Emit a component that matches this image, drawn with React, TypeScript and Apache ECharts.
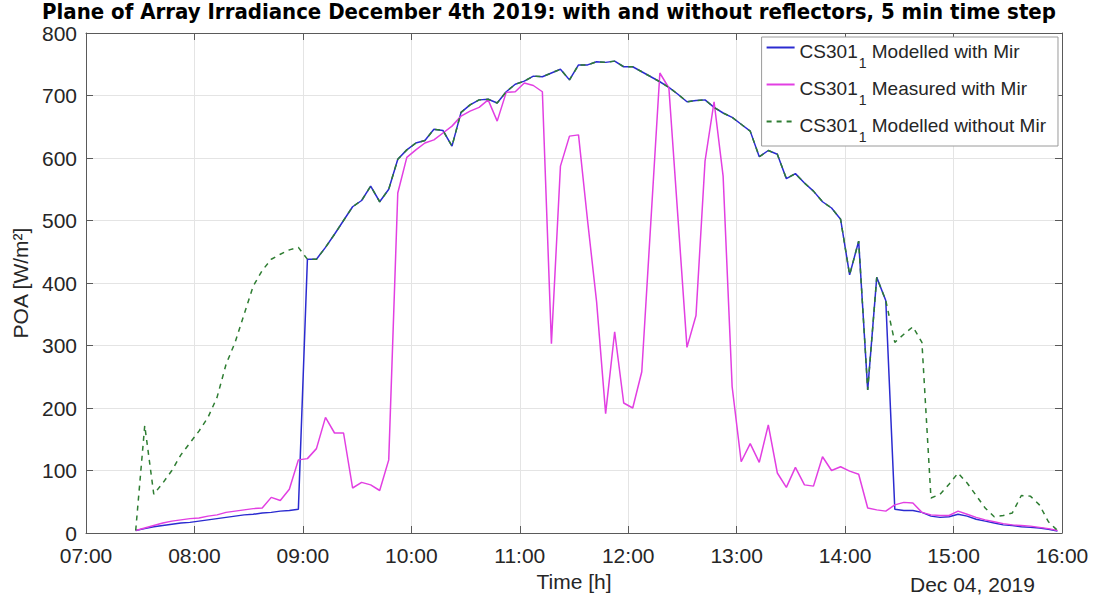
import React, { useEffect, useRef } from "react";
import * as echarts from "echarts";

// Time grid: first sample at 07:27:30, every 5 minutes (values in minutes since midnight)
const START_MIN = 7 * 60 + 27.5;
const STEP_MIN = 5;

const X_MIN = 420; // 07:00
const X_MAX = 960; // 16:00
const Y_MAX = 800;

const SERIES_NAMES = ["Modelled with Mir", "Measured with Mir", "Modelled without Mir"];

const modelledWithMir = [
  4, 7, 10, 12, 14, 16, 17, 19, 21, 23, 25, 27, 29, 30, 32, 33, 35, 36, 38,
  438, 438, 457, 478, 500, 522, 532, 555, 530, 550, 598, 613, 624, 628, 646, 644, 619,
  673, 685, 693, 694, 688, 706, 718, 723, 731, 730, 736, 742, 725, 749, 749, 754, 753,
  755, 746, 746, 738, 730, 722, 713, 702, 690, 692, 693, 681, 672, 665, 654, 643, 602,
  612, 606, 567, 575, 560, 547, 530, 520, 502, 413, 467, 229, 409, 372,
  38, 36, 36, 33, 27, 25, 26, 30, 27, 22, 19, 16, 13, 12, 10, 9, 8, 6, 3,
];

const measuredWithMir = [
  4, 8, 12, 16, 19, 21, 23, 24, 27, 29, 33, 35, 37, 39, 40, 57, 52, 70, 117,
  119, 135, 185, 160, 160, 72, 81, 77, 68, 117, 544, 601, 613, 624, 629, 640, 651,
  667, 675, 681, 693, 659, 705, 706, 720, 716, 706, 303, 587, 635, 637, 500, 370, 191,
  322, 208, 200, 258, 497, 736, 712, 505, 297, 348, 595, 690, 571, 234, 114, 143, 113,
  173, 96, 73, 105, 77, 75, 122, 100, 106, 99, 94, 40, 37, 35,
  45, 49, 48, 33, 29, 28, 28, 35, 30, 25, 21, 18, 15, 13, 12, 11, 9, 7, 4,
];

const modelledWithoutMir = [
  4, 172, 62, 80, 100, 125, 144, 163, 185, 217, 270, 305, 350, 395, 420, 438, 446, 453, 457,
  438, 438, 457, 478, 500, 522, 532, 555, 530, 550, 598, 613, 624, 628, 646, 644, 619,
  673, 685, 693, 694, 688, 706, 718, 723, 731, 730, 736, 742, 725, 749, 749, 754, 753,
  755, 746, 746, 738, 730, 722, 713, 702, 690, 692, 693, 681, 672, 665, 654, 643, 602,
  612, 606, 567, 575, 560, 547, 530, 520, 502, 413, 467, 229, 409, 372,
  305, 318, 330, 305, 56, 62, 78, 96, 80, 60, 40, 26, 28, 32, 60, 59, 45, 18, 4,
];

const COLORS = ["#2b2bd0", "#e23fe2", "#2e7d32"];

const pad2 = (n: number) => (n < 10 ? "0" + n : "" + n);
const fmtTime = (m: number) => pad2(Math.floor(m / 60)) + ":" + pad2(Math.round(m % 60));

const toPairs = (vals: number[]) => vals.map((v, i) => [START_MIN + i * STEP_MIN, v]);

const SANS = "'Liberation Sans', Arial, sans-serif";
const AXIS_COLOR = "#5a5a5a";
const TEXT_COLOR = "#262626";
const GRID_COLOR = "#e4e4e4";

export default function App() {
  const ref = useRef<HTMLDivElement>(null);

  useEffect(() => {
    if (!ref.current) return;
    const chart = echarts.init(ref.current, undefined, { renderer: "svg" });

    const baseX = {
      type: "value" as const,
      min: X_MIN,
      max: X_MAX,
      interval: 60,
    };
    const baseY = {
      type: "value" as const,
      min: 0,
      max: Y_MAX,
      interval: 100,
    };

    chart.setOption({
      animation: false,
      backgroundColor: "#ffffff",
      title: {
        text: "Plane of Array Irradiance December 4th 2019: with and without reflectors, 5 min time step",
        left: "center",
        top: 0,
        padding: 0,
        textStyle: {
          fontFamily: "'Liberation Sans Narrow', 'DejaVu Sans Condensed', sans-serif",
          fontWeight: "bold",
          fontSize: 22,
          lineHeight: 22,
          color: "#000",
        },
      },
      grid: { left: 86, top: 33, right: 36, bottom: 74, containLabel: false },
      xAxis: [
        {
          ...baseX,
          position: "bottom",
          name: "Time [h]",
          nameLocation: "middle",
          nameGap: 38,
          nameTextStyle: { fontFamily: SANS, fontSize: 21, color: TEXT_COLOR },
          axisLine: { show: true, onZero: false, lineStyle: { color: AXIS_COLOR, width: 1 } },
          axisTick: { show: true, inside: true, length: 7, lineStyle: { color: AXIS_COLOR } },
          axisLabel: {
            formatter: (v: number) => fmtTime(v),
            fontFamily: SANS,
            fontSize: 21,
            color: TEXT_COLOR,
            margin: 12,
          },
          splitLine: { show: true, lineStyle: { color: GRID_COLOR, width: 1 } },
        },
        {
          ...baseX,
          position: "top",
          axisLine: { show: true, onZero: false, lineStyle: { color: AXIS_COLOR, width: 1 } },
          axisTick: { show: true, inside: true, length: 7, lineStyle: { color: AXIS_COLOR } },
          axisLabel: { show: false },
          splitLine: { show: false },
        },
      ],
      yAxis: [
        {
          ...baseY,
          position: "left",
          name: "POA [W/m²]",
          nameLocation: "middle",
          nameGap: 50,
          nameTextStyle: { fontFamily: SANS, fontSize: 21, color: TEXT_COLOR },
          axisLine: { show: true, onZero: false, lineStyle: { color: AXIS_COLOR, width: 1 } },
          axisTick: { show: true, inside: true, length: 7, lineStyle: { color: AXIS_COLOR } },
          axisLabel: { fontFamily: SANS, fontSize: 21, color: TEXT_COLOR, margin: 9 },
          splitLine: { show: true, lineStyle: { color: GRID_COLOR, width: 1 } },
        },
        {
          ...baseY,
          position: "right",
          axisLine: { show: true, onZero: false, lineStyle: { color: AXIS_COLOR, width: 1 } },
          axisTick: { show: true, inside: true, length: 7, lineStyle: { color: AXIS_COLOR } },
          axisLabel: { show: false },
          splitLine: { show: false },
        },
      ],
      legend: {
        orient: "vertical",
        right: 40,
        top: 37,
        backgroundColor: "#ffffff",
        borderColor: "#9a9a9a",
        borderWidth: 1,
        borderRadius: 0,
        padding: [1, 12, 2, 4],
        itemGap: 5,
        itemWidth: 28,
        itemHeight: 14,
        itemStyle: { opacity: 0 },
        data: SERIES_NAMES,
        formatter: (name: string) => `{a|CS301}{b|1}{a| ${name}}`,
        textStyle: {
          rich: {
            a: {
              fontFamily: SANS,
              fontSize: 19,
              color: TEXT_COLOR,
              lineHeight: 19,
              verticalAlign: "top",
              padding: [4, 0, 0, 0],
            },
            b: {
              fontFamily: SANS,
              fontSize: 14,
              color: TEXT_COLOR,
              lineHeight: 13,
              verticalAlign: "top",
              padding: [18, 0, 0, 1],
            },
          },
        },
      },
      series: [
        {
          name: SERIES_NAMES[0],
          type: "line",
          data: toPairs(modelledWithMir),
          symbol: "none",
          lineStyle: { color: COLORS[0], width: 1.5 },
          itemStyle: { color: COLORS[0] },
          z: 2,
        },
        {
          name: SERIES_NAMES[1],
          type: "line",
          data: toPairs(measuredWithMir),
          symbol: "none",
          lineStyle: { color: COLORS[1], width: 1.5 },
          itemStyle: { color: COLORS[1] },
          z: 3,
        },
        {
          name: SERIES_NAMES[2],
          type: "line",
          data: toPairs(modelledWithoutMir),
          symbol: "none",
          lineStyle: { color: COLORS[2], width: 1.5, type: [5, 5] },
          itemStyle: { color: COLORS[2] },
          z: 4,
        },
      ],
      graphic: [
        {
          type: "text",
          left: 910,
          top: 574,
          style: { text: "Dec 04, 2019", fontFamily: SANS, fontSize: 21, fill: TEXT_COLOR },
        },
      ],
    });

    return () => chart.dispose();
  }, []);

  return (
    <div
      ref={ref}
      style={{ position: "fixed", left: 0, top: 0, width: 1098, height: 607, background: "#fff" }}
    />
  );
}
